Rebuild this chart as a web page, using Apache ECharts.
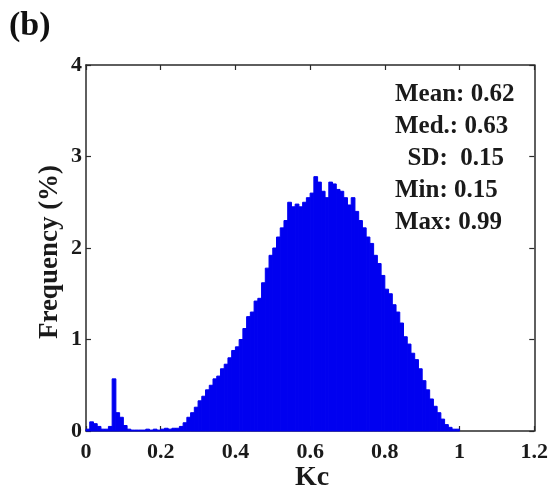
<!DOCTYPE html>
<html>
<head>
<meta charset="utf-8">
<script src="https://cdn.jsdelivr.net/npm/echarts@6/dist/echarts.min.js"></script>
<style>
html,body{margin:0;padding:0;background:#fff;}
#chart{width:551px;height:491px;}
</style>
</head>
<body>
<div id="chart"></div>
<script>
// Histogram of Kc: bin width 0.01, starting at 0
const binWidth = 0.01;
const frequency = [
  0.02, 0.10, 0.08, 0.05, 0.02, 0.02, 0.05, 0.57, 0.20, 0.15,
  0.06, 0.02, 0.01, 0.01, 0.01, 0.01, 0.02, 0.01, 0.02, 0.01,
  0.02, 0.03, 0.02, 0.03, 0.03, 0.05, 0.09, 0.15, 0.20, 0.26,
  0.33, 0.38, 0.45, 0.50, 0.57, 0.60, 0.68, 0.73, 0.80, 0.88,
  0.92, 1.00, 1.12, 1.25, 1.30, 1.42, 1.45, 1.62, 1.78, 1.92,
  2.00, 2.12, 2.22, 2.30, 2.50, 2.45, 2.48, 2.45, 2.50, 2.55,
  2.60, 2.78, 2.72, 2.62, 2.55, 2.72, 2.70, 2.64, 2.62, 2.55,
  2.47, 2.55, 2.40, 2.30, 2.22, 2.12, 2.05, 1.92, 1.83, 1.70,
  1.55, 1.50, 1.38, 1.30, 1.18, 1.03, 0.95, 0.85, 0.78, 0.68,
  0.55, 0.45, 0.35, 0.27, 0.20, 0.13, 0.07, 0.04, 0.02, 0.02
];
const xTicks = [0, 0.2, 0.4, 0.6, 0.8, 1, 1.2];
const yTicks = [0, 1, 2, 3, 4];
const statsLines = ['Mean: 0.62', 'Med.: 0.63', '  SD:  0.15', 'Min: 0.15', 'Max: 0.99'];
const panelLabel = '(b)';
const xTitle = 'Kc';
const yTitle = 'Frequency (%)';

const FONT = '"Liberation Serif", "Times New Roman", serif';
const BLUE = '#0000f0';
const histData = frequency.map((v, i) => [i * binWidth, (i + 1) * binWidth, v]);

const chart = echarts.init(document.getElementById('chart'), null, {renderer: 'canvas'});

const axisLine = {show: true, onZero: false, lineStyle: {color: '#2a2a2a', width: 1.5}};
const axisTick = {show: true, inside: true, length: 5, lineStyle: {color: '#2a2a2a', width: 1.2}};
const labelStyle = {fontFamily: FONT, fontWeight: 'bold', fontSize: 22, color: '#1a1a1a'};

const statsGraphics = statsLines.map((t, i) => ({
  type: 'text', left: 395, top: 82 + i * 32,
  style: {text: t, fontFamily: FONT, fontWeight: 'bold', fontSize: 25, fill: '#1a1a1a', whiteSpace: 'pre'}
}));

chart.setOption({
  animation: false,
  backgroundColor: '#ffffff',
  grid: {left: 86, right: 13, top: 65, bottom: 60, containLabel: false},
  xAxis: [
    {type: 'value', position: 'bottom', min: xTicks[0], max: xTicks[xTicks.length - 1], interval: 0.2,
     axisLine, axisTick, splitLine: {show: false},
     axisLabel: Object.assign({margin: 10, formatter: v => String(+v.toFixed(1))}, labelStyle)},
    {type: 'value', position: 'top', min: xTicks[0], max: xTicks[xTicks.length - 1], interval: 0.2,
     axisLine, axisTick, splitLine: {show: false}, axisLabel: {show: false}}
  ],
  yAxis: [
    {type: 'value', position: 'left', min: yTicks[0], max: yTicks[yTicks.length - 1], interval: 1,
     axisLine, axisTick, splitLine: {show: false},
     axisLabel: Object.assign({margin: 4}, labelStyle)},
    {type: 'value', position: 'right', min: yTicks[0], max: yTicks[yTicks.length - 1], interval: 1,
     axisLine, axisTick, splitLine: {show: false}, axisLabel: {show: false}}
  ],
  series: [{
    type: 'custom',
    xAxisIndex: 0, yAxisIndex: 0,
    data: histData,
    encode: {x: [0, 1], y: 2},
    renderItem: function (params, api) {
      const x0 = api.value(0), x1 = api.value(1), y = api.value(2);
      const p0 = api.coord([x0, 0]);
      const p1 = api.coord([x1, y]);
      return {
        type: 'rect',
        shape: {x: p0[0], y: p1[1], width: p1[0] - p0[0], height: p0[1] - p1[1]},
        style: {fill: BLUE, stroke: BLUE, lineWidth: 1}
      };
    },
    z: 1
  }],
  graphic: [
    {type: 'text', left: 9, top: 9,
     style: {text: panelLabel, fontFamily: FONT, fontWeight: 'bold', fontSize: 34, fill: '#111'}},
    {type: 'text', x: 312, y: 478,
     style: {text: xTitle, fontFamily: FONT, fontWeight: 'bold', fontSize: 28, fill: '#1a1a1a', align: 'center', verticalAlign: 'middle'}},
    {type: 'text', x: 50, y: 252, rotation: Math.PI / 2,
     style: {text: yTitle, fontFamily: FONT, fontWeight: 'bold', fontSize: 27, fill: '#1a1a1a', align: 'center', verticalAlign: 'middle'}}
  ].concat(statsGraphics)
});
</script>
</body>
</html>
